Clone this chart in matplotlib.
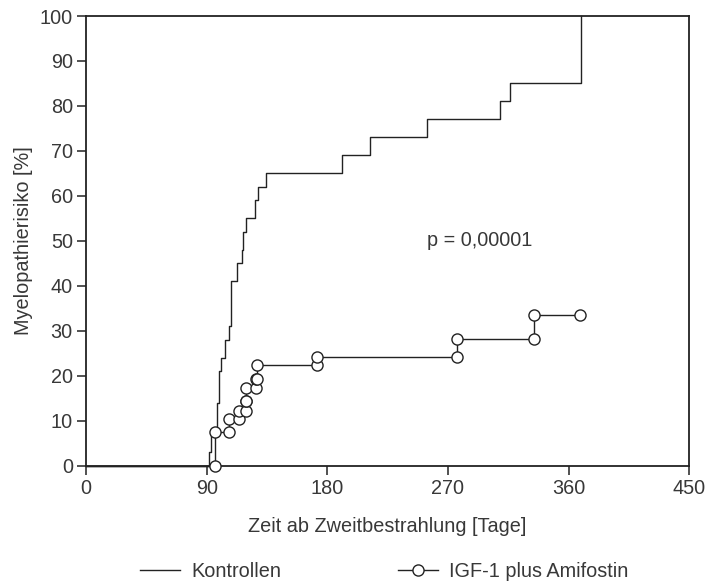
import numpy as np
import matplotlib
matplotlib.use("Agg")
import matplotlib.pyplot as plt

# Kontrollen: Ereigniszeiten [Tage] und Risiko nach dem Schritt [%]
ctrl_times = [92, 93, 97.5, 99, 100.5, 104, 106.5, 108, 113, 116, 117, 119,
              126, 128, 134.5, 191, 211.5, 254, 309, 316.5, 369]
ctrl_values = [3.1, 8, 14, 21, 24, 28, 31, 41, 45, 48, 52, 55,
               59, 62, 65, 69, 73, 77, 81, 85, 100]

# IGF-1 plus Amifostin
igf_times = [96, 106.5, 114, 119, 119.7, 126.5, 127.5, 172.5, 277, 334]
igf_values = [7.4, 10.3, 12.2, 14.4, 17.2, 19.2, 22.4, 24.2, 28.2, 33.5]
igf_end = 368.5

xticks = [0, 90, 180, 270, 360, 450]
yticks = [0, 10, 20, 30, 40, 50, 60, 70, 80, 90, 100]

plt.rcParams['font.family'] = ['Liberation Sans', 'DejaVu Sans']
txt = '#383838'
fs = 14.3

fig = plt.figure(figsize=(7.09, 5.84), dpi=100)
ax = fig.add_axes([0.1213, 0.2026, 0.9722 - 0.1213, 0.9726 - 0.2026])


def step_path(times, values, start=0.0, x0=0.0):
    xs, ys = [x0], [start]
    prev = start
    for t, v in zip(times, values):
        xs += [t, t]
        ys += [prev, v]
        prev = v
    return xs, ys


cx, cy = step_path(ctrl_times, ctrl_values)
ax.plot(cx, cy, color='#222222', lw=1.0, clip_on=False, zorder=3)

ix, iy = step_path(igf_times, igf_values)
ix.append(igf_end)
iy.append(igf_values[-1])
ax.plot(ix, iy, color='#222222', lw=1.0, clip_on=False, zorder=3)
# Kreise an beiden Enden jedes Schrittes und am Ende
ax.plot(ix[1:], iy[1:], 'o', ms=8, mfc='white', mec='#222222', mew=1.0,
        clip_on=False, zorder=4)

ax.set_xlim(0, 450)
ax.set_ylim(0, 100)
ax.set_xticks(xticks)
ax.set_yticks(yticks)
for s in ax.spines.values():
    s.set_linewidth(1.3)
    s.set_color('#222222')
ax.tick_params(axis='both', direction='out', length=6.5, width=1.1,
               color='#222222', labelsize=fs, labelcolor=txt, pad=3)

ax.set_xlabel('Zeit ab Zweitbestrahlung [Tage]', fontsize=fs, color=txt,
              labelpad=14)
ax.set_ylabel('Myelopathierisiko [%]', fontsize=fs, color=txt, labelpad=5)

ax.text(254, 50, 'p = 0,00001', fontsize=fs, color=txt, va='center',
        ha='left')

h1, = ax.plot([], [], color='#222222', lw=1.0)
h2, = ax.plot([], [], color='#222222', lw=1.0, marker='o', ms=8,
              mfc='white', mec='#222222')
fig.legend([h1, h2], ['Kontrollen', 'IGF-1 plus Amifostin'], ncol=2,
           frameon=False, loc='center', bbox_to_anchor=(0.542, 0.022),
           fontsize=fs, labelcolor=txt, handlelength=2.0,
           handletextpad=0.55, columnspacing=5.9,
           borderpad=0.0, borderaxespad=0.0)

fig.savefig('out.png', dpi=100)
